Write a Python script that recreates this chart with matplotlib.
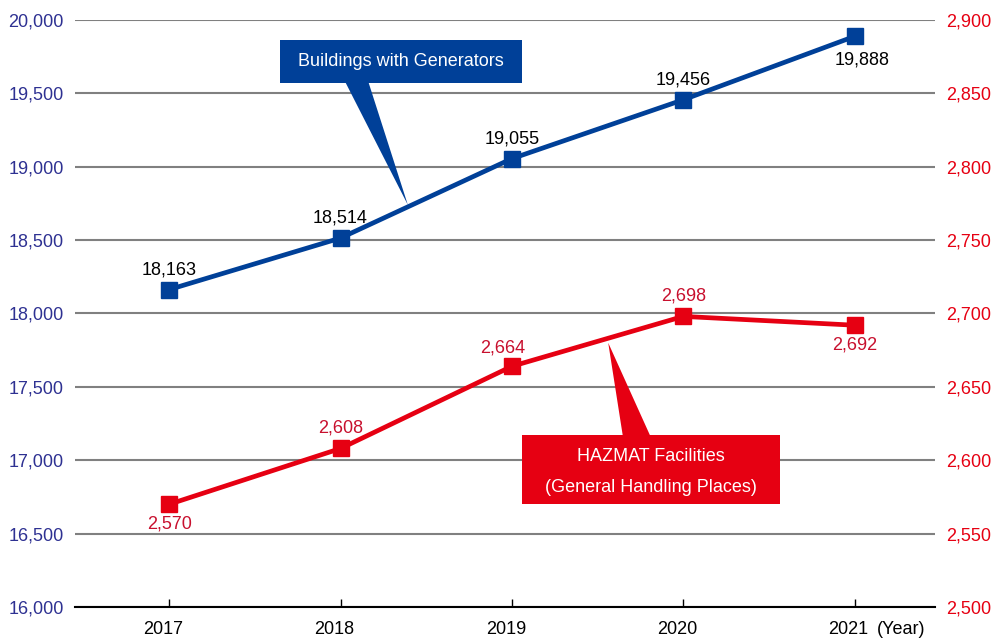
import matplotlib
matplotlib.use('Agg')
import matplotlib.pyplot as plt
import matplotlib.transforms as mtransforms
from matplotlib.patches import Polygon
from matplotlib.ticker import FuncFormatter

plt.rcParams['font.family'] = ['Liberation Sans', 'DejaVu Sans']

years = ['2017', '2018', '2019', '2020', '2021']
generators = [18163, 18514, 19055, 19456, 19888]
hazmat = [2570, 2608, 2664, 2698, 2692]

BLUE = '#004098'
RED = '#e60012'
AXBLUE = '#2e3192'
LBLRED = '#c8102e'

fig = plt.figure(figsize=(9.96, 6.44), dpi=100)
ax = fig.add_axes([0.0753, 0.0575, 0.8635, 0.9115])
ax2 = ax.twinx()

x = list(range(len(years)))
comma = FuncFormatter(lambda v, p: f'{int(v):,}')

# left axis: buildings with generators
ax.set_xlim(-0.55, 4.47)
ax.set_ylim(16000, 20000)
ax.set_yticks(range(16000, 20001, 500))
ax.yaxis.set_major_formatter(comma)
ax.set_axisbelow(True)
ax.grid(axis='y', color='#808080', lw=1.5)
ax.tick_params(axis='y', length=0, pad=8, labelsize=13, labelcolor=AXBLUE)
ax.set_xticks(x)
ax.set_xticklabels(years)
ax.tick_params(axis='x', direction='in', length=6, width=1, pad=10, labelsize=13)
shift = mtransforms.ScaledTranslation(-6 / 100, 0, fig.dpi_scale_trans)
for lbl in ax.get_xticklabels():
    lbl.set_transform(lbl.get_transform() + shift)
for s in ['top', 'left', 'right']:
    ax.spines[s].set_visible(False)
ax.spines['bottom'].set_color('black')
ax.spines['bottom'].set_linewidth(1.5)

ax.plot(x, generators, color=BLUE, lw=3.4, marker='s', ms=12, zorder=5)
offs_g = [(0, 20), (0, 20), (0, 20), (0, 20), (8, -24)]
for xi, v, o in zip(x, generators, offs_g):
    ax.annotate(f'{v:,}', (xi, v), xytext=o, textcoords='offset pixels',
                ha='center', va='center', fontsize=13, color='black')

# right axis: hazmat facilities
ax2.set_ylim(2500, 2900)
ax2.set_yticks(range(2500, 2901, 50))
ax2.yaxis.set_major_formatter(comma)
ax2.tick_params(axis='y', length=0, pad=8, labelsize=13, labelcolor=RED)
for s in ax2.spines.values():
    s.set_visible(False)

ax2.plot(x, hazmat, color=RED, lw=3.4, marker='s', ms=12, zorder=5)
offs_h = [(0, -20), (0, 20), (-9, 18), (0, 20), (0, -20)]
for xi, v, o in zip(x, hazmat, offs_h):
    ax2.annotate(f'{v:,}', (xi, v), xytext=o, textcoords='offset pixels',
                 ha='center', va='center', fontsize=13, color=LBLRED)

# unit label next to the last year
blend = mtransforms.blended_transform_factory(ax.transData, ax.transAxes)
ax.text(4.13, -0.039, '(Year)', transform=blend, ha='left', va='center',
        fontsize=13)

# callout boxes
def callout(box, tri, color, lines, ty):
    t = ax.transAxes
    ax.add_patch(Polygon(tri, closed=True, transform=t, color=color, lw=0, zorder=3, clip_on=False))
    ax.add_patch(Polygon(box, closed=True, transform=t, color=color, lw=0, zorder=3, clip_on=False))
    cx = (box[0][0] + box[1][0]) / 2
    for txt, yy in zip(lines, ty):
        ax.text(cx, yy, txt, transform=t, ha='center', va='center', fontsize=13,
                color='white', zorder=4)

callout([(0.238, 0.966), (0.520, 0.966), (0.520, 0.893), (0.238, 0.893)],
        [(0.314, 0.895), (0.341, 0.895), (0.387, 0.685)],
        BLUE, ['Buildings with Generators'], [0.929])
callout([(0.520, 0.293), (0.820, 0.293), (0.820, 0.175), (0.520, 0.175)],
        [(0.637, 0.291), (0.669, 0.291), (0.620, 0.450)],
        RED, ['HAZMAT Facilities', '(General Handling Places)'], [0.257, 0.203])

fig.savefig('out.png', dpi=100)
